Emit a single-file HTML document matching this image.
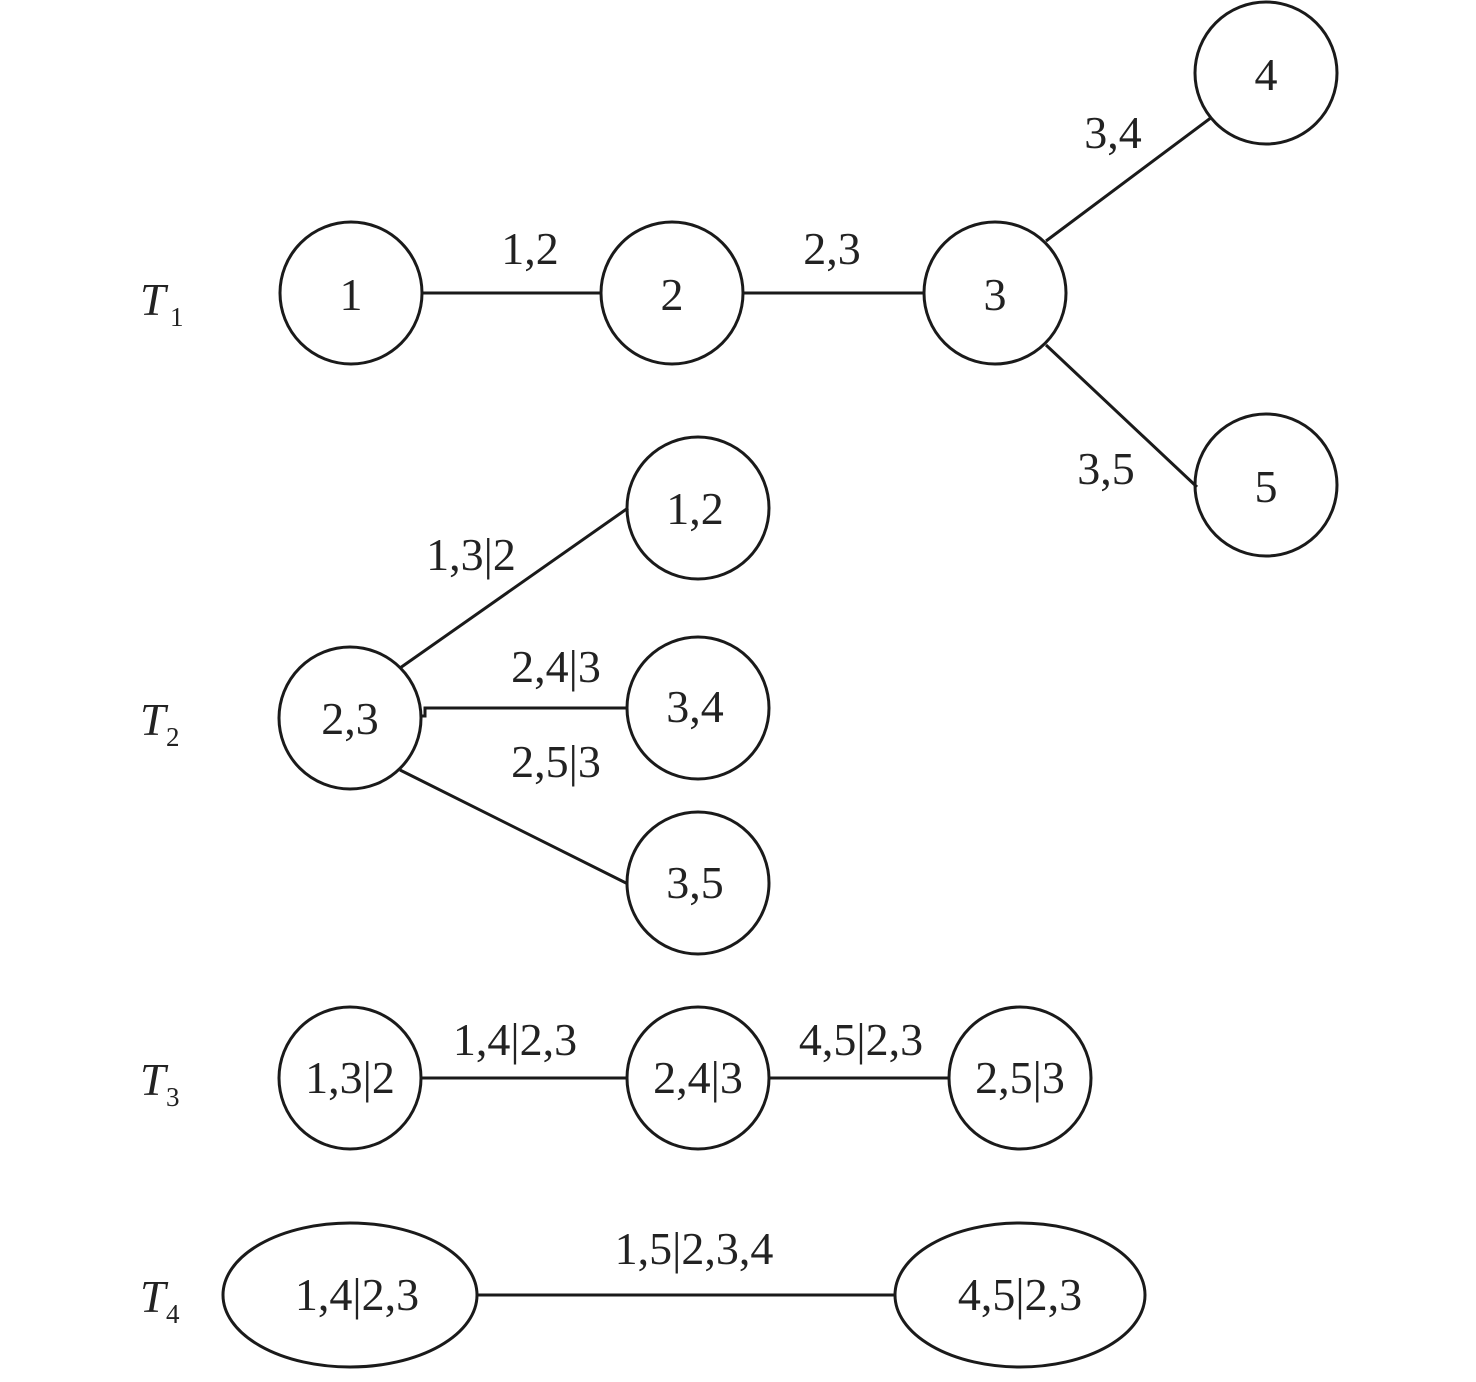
<!DOCTYPE html>
<html><head><meta charset="utf-8"><style>
html,body{margin:0;padding:0;background:#fff;}
svg{display:block;}
text{font-family:"Liberation Serif",serif;fill:#222;}
</style></head><body>
<svg width="1476" height="1382" viewBox="0 0 1476 1382" xmlns="http://www.w3.org/2000/svg">
<g stroke="#1a1a1a" stroke-width="3" fill="none">
<circle cx="351" cy="293" r="71"/>
<circle cx="672" cy="293" r="71"/>
<circle cx="995" cy="293" r="71"/>
<circle cx="1266" cy="73" r="71"/>
<circle cx="1266" cy="485" r="71"/>
<line x1="422" y1="293" x2="601" y2="293"/>
<line x1="743" y1="293" x2="924" y2="293"/>
<line x1="1046" y1="241" x2="1212" y2="117"/>
<line x1="1046" y1="345" x2="1197" y2="487"/>
<circle cx="350" cy="718" r="71"/>
<circle cx="698" cy="508" r="71"/>
<circle cx="698" cy="708" r="71"/>
<circle cx="698" cy="883" r="71"/>
<line x1="400" y1="668" x2="628" y2="508"/>
<polyline points="421,716 425,716 425,708 628,708"/>
<line x1="400" y1="770" x2="628" y2="884"/>
<circle cx="350" cy="1078" r="71"/>
<circle cx="698" cy="1078" r="71"/>
<circle cx="1020" cy="1078" r="71"/>
<line x1="421" y1="1078" x2="627" y2="1078"/>
<line x1="769" y1="1078" x2="949" y2="1078"/>
<ellipse cx="350" cy="1295" rx="127" ry="72"/>
<ellipse cx="1020" cy="1295" rx="125" ry="72"/>
<line x1="477" y1="1295" x2="895" y2="1295"/>
</g>
<g font-size="46" text-anchor="middle">
<text x="351" y="310">1</text>
<text x="672" y="310">2</text>
<text x="995" y="310">3</text>
<text x="1266" y="90">4</text>
<text x="1266" y="502">5</text>
<text x="530" y="264">1,2</text>
<text x="832" y="264">2,3</text>
<text x="1113" y="148">3,4</text>
<text x="1106" y="484">3,5</text>
<text x="350" y="734">2,3</text>
<text x="695" y="524">1,2</text>
<text x="695" y="722">3,4</text>
<text x="695" y="898">3,5</text>
<text x="471" y="570">1,3|2</text>
<text x="556" y="682">2,4|3</text>
<text x="556" y="777">2,5|3</text>
<text x="350" y="1093">1,3|2</text>
<text x="698" y="1093">2,4|3</text>
<text x="1020" y="1093">2,5|3</text>
<text x="515" y="1055">1,4|2,3</text>
<text x="861" y="1055">4,5|2,3</text>
<text x="357" y="1310">1,4|2,3</text>
<text x="1020" y="1310">4,5|2,3</text>
<text x="694" y="1264">1,5|2,3,4</text>
</g>
<g font-size="46" font-style="italic">
<text x="140" y="315">T</text>
<text x="140" y="735">T</text>
<text x="140" y="1095">T</text>
<text x="140" y="1312">T</text>
</g>
<g font-size="27">
<text x="170" y="326">1</text>
<text x="166" y="746">2</text>
<text x="166" y="1106">3</text>
<text x="166" y="1323">4</text>
</g>
</svg>
</body></html>
